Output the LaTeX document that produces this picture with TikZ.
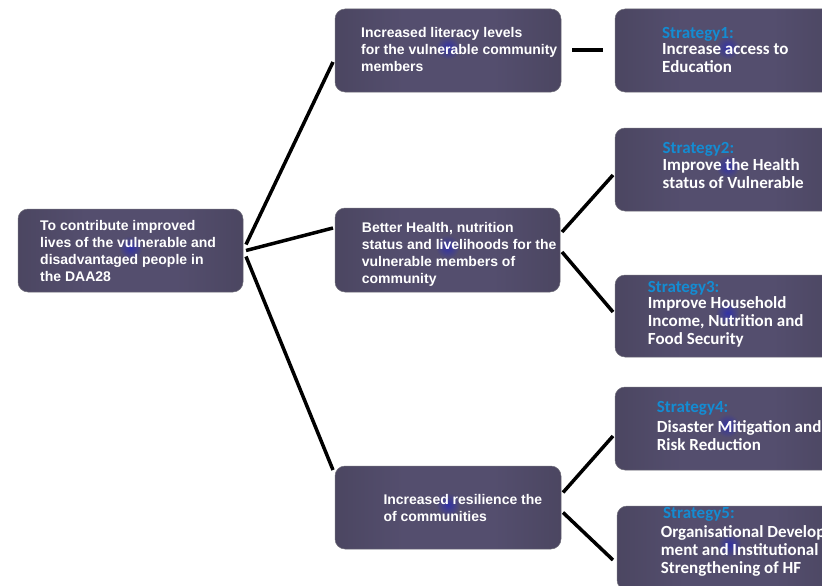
\documentclass[tikz,border=0pt]{standalone}
\usepackage{fontspec}
\setmainfont{Liberation Sans}
\newfontfamily\stratfont{Carlito}
\usetikzlibrary{calc}
\definecolor{spotc}{RGB}{50,50,165}
\definecolor{midc}{RGB}{84,78,110}
\definecolor{outc}{RGB}{42,40,48}
\definecolor{edgec}{RGB}{110,108,120}
\definecolor{stratblue}{RGB}{20,140,210}
\pgfdeclarehorizontalshading{boxshade}{100bp}{color(0bp)=(outc); color(22bp)=(midc!75!outc); color(40bp)=(midc); color(60bp)=(midc); color(78bp)=(midc!75!outc); color(100bp)=(outc)}
\newcommand{\boxtxt}[1]{\fontsize{14}{17}\selectfont\bfseries\begin{tabular}[t]{@{}l@{}}#1\end{tabular}}
\newcommand{\strattxt}[1]{\stratfont\fontsize{17}{18}\selectfont\bfseries\begin{tabular}[t]{@{}l@{}}#1\end{tabular}}
\tikzset{
  darkbox/.style={rectangle, rounded corners=10pt, shading=boxshade, draw=edgec, line width=0.5pt, inner sep=0pt, outer sep=0pt, minimum width=225pt, minimum height=83pt},
  glow/.style={inner color=spotc, outer color=midc},
  wtext/.style={anchor=base west, inner sep=0pt, text=white},
  btext/.style={anchor=base west, inner sep=0pt, text=stratblue},
  conn/.style={draw=black, line width=3.5pt},
}
\begin{document}
\begin{tikzpicture}[x=1pt,y=-1pt]
\useasboundingbox (0,0) rectangle (822,586);
\clip (0,0) rectangle (822,586);
% boxes
\node[darkbox] (root) at (130.5,250.5) {};
\node[darkbox, minimum width=226pt] (A) at (448,50.5) {};
\node[darkbox, minimum height=84pt] (B) at (447.5,250) {};
\node[darkbox, minimum width=226pt] (C) at (448,507.5) {};
\node[darkbox] (S1) at (727.5,50.5) {};
\node[darkbox] (S2) at (727.5,169.5) {};
\node[darkbox, minimum height=82pt] (S3) at (727.5,316) {};
\node[darkbox] (S4) at (727.5,428.5) {};
\node[darkbox, minimum height=84pt] (S5) at (729.5,548) {};
\foreach \n in {root,A,B,C,S1,S2,S3,S4,S5}
  \shade[glow] ([yshift=3]\n.center) circle (12pt);
% texts
\node[wtext] (roott) at (40,230) {\boxtxt{To contribute improved\\lives of the vulnerable and\\disadvantaged people in\\the DAA28}};
\node[wtext] (At) at (361,37.3) {\boxtxt{Increased literacy levels\\for the vulnerable community\\members}};
\node[wtext] (Bt) at (361.7,232.3) {\boxtxt{Better Health, nutrition\\status and livelihoods for the\\vulnerable members of\\community}};
\node[wtext] (Ct) at (383.3,504.3) {\boxtxt{Increased resilience the\\of communities}};
\node[btext] (S1l) at (662,39) {\strattxt{Strategy1:}};
\node[wtext] (S1t) at (662,54.5) {\strattxt{Increase access to\\Education}};
\node[btext] (S2l) at (662.5,153) {\strattxt{Strategy2:}};
\node[wtext] (S2t) at (662.5,170.7) {\strattxt{Improve the Health\\status of Vulnerable}};
\node[btext] (S3l) at (647.7,292.2) {\strattxt{Strategy3:}};
\node[wtext] (S3t) at (647.7,308.7) {\strattxt{Improve Household\\Income, Nutrition and\\Food Security}};
\node[btext] (S4l) at (656.7,412.7) {\strattxt{Strategy4:}};
\node[wtext] (S4t) at (656.7,432.7) {\strattxt{Disaster Mitigation and\\Risk Reduction}};
\node[btext] (S5l) at (663,518.3) {\strattxt{Strategy5:}};
\node[wtext] (S5t) at (660.7,537.3) {\strattxt{Organisational Develop\\ment and Institutional\\Strengthening of HF}};
% connectors
\draw[conn] ([shift={(3,-6)}]root.east) -- ([shift={(-2,11.5)}]A.west);
\draw[conn] ([shift={(3,0)}]root.east) -- ([shift={(-2,-22)}]B.west);
\draw[conn] ([shift={(3,6)}]root.east) -- ([shift={(-2,-37.5)}]C.west);
\draw[conn, line width=4pt] ([xshift=11]A.east) -- ([xshift=-12]S1.west);
\draw[conn] ([shift={(2,-18)}]B.east) -- ([shift={(-2,5.5)}]S2.west);
\draw[conn] ([shift={(2,2)}]B.east) -- ([shift={(-2,-4)}]S3.west);
\draw[conn] ([shift={(2,-15)}]C.east) -- ([shift={(-2,7.5)}]S4.west);
\draw[conn] ([shift={(2,5)}]C.east) -- ([shift={(-4,12)}]S5.west);
\end{tikzpicture}
\end{document}
